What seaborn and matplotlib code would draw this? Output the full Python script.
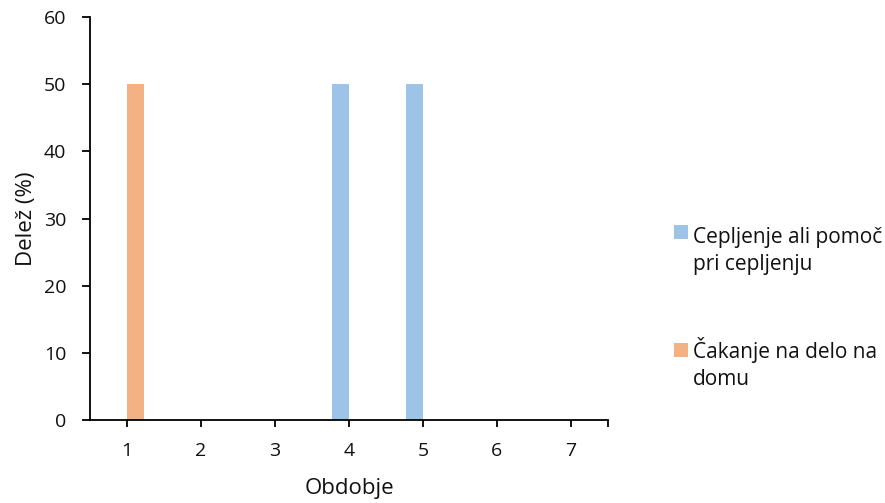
import matplotlib
matplotlib.use("Agg")
import matplotlib.pyplot as plt
from matplotlib.patches import Rectangle
import seaborn as sns
import pandas as pd

# Share of respondents per period, by activity
periods = ["1", "2", "3", "4", "5", "6", "7"]
cepljenje = [0, 0, 0, 50, 50, 0, 0]
cakanje = [50, 0, 0, 0, 0, 0, 0]
series_names = ["Cepljenje ali pomoč\npri cepljenju", "Čakanje na delo na\ndomu"]
series_colors = ["#9DC3E6", "#F4B183"]

df = pd.DataFrame({
    "Obdobje": periods * 2,
    "Delez": cepljenje + cakanje,
    "Serija": [series_names[0]] * len(periods) + [series_names[1]] * len(periods),
})

sns.set_theme(style="white")
plt.rcParams["font.family"] = ["Open Sans", "DejaVu Sans"]

W, H = 885, 503
fig = plt.figure(figsize=(W / 100, H / 100), dpi=100)
ax = fig.add_axes([90 / W, 1 - 420 / H, (608 - 90) / W, (420 - 17) / H])

sns.barplot(data=df, x="Obdobje", y="Delez", hue="Serija", order=periods,
            hue_order=series_names, palette=series_colors, width=0.46,
            linewidth=0, saturation=1, ax=ax, legend=False)

ax.set_xlim(-0.5, len(periods) - 0.5)
ax.set_ylim(0, 60)
ax.set_yticks(range(0, 61, 10))
ax.set_xticks(range(len(periods)))
ax.set_xticklabels(periods)
ax.set_xticks([len(periods) - 0.5], minor=True)

for side in ("top", "right"):
    ax.spines[side].set_visible(False)
for side in ("left", "bottom"):
    ax.spines[side].set_color("black")
    ax.spines[side].set_linewidth(1.3)

ax.tick_params(axis="both", which="both", direction="out", width=1.3,
               color="black", labelsize=14, labelcolor="#111111",
               bottom=True, left=True)
ax.tick_params(axis="x", which="both", length=5, pad=11)
ax.tick_params(axis="y", length=6, pad=11)

ax.set_xlabel("Obdobje", fontsize=16, color="#111111")
ax.set_ylabel("Delež (%)", fontsize=16, color="#111111")
ax.xaxis.set_label_coords(0.5, (420 - 478) / 403)
ax.yaxis.set_label_coords((37 - 90) / 518, 0.5)

# Legend: colour swatch beside the first line of each entry
entries = [(232, 270), (350, 385)]  # swatch centre, baseline of last text line
for (sy, base), name, color in zip(entries, series_names, series_colors):
    fig.add_artist(Rectangle((674 / W, 1 - (sy + 7) / H), 14 / W, 14 / H,
                             transform=fig.transFigure, facecolor=color,
                             edgecolor="none"))
    fig.text(693 / W, 1 - base / H, name, fontsize=15, color="#111111",
             va="baseline", ha="left", linespacing=1.35)

fig.savefig("out.png", dpi=100)
